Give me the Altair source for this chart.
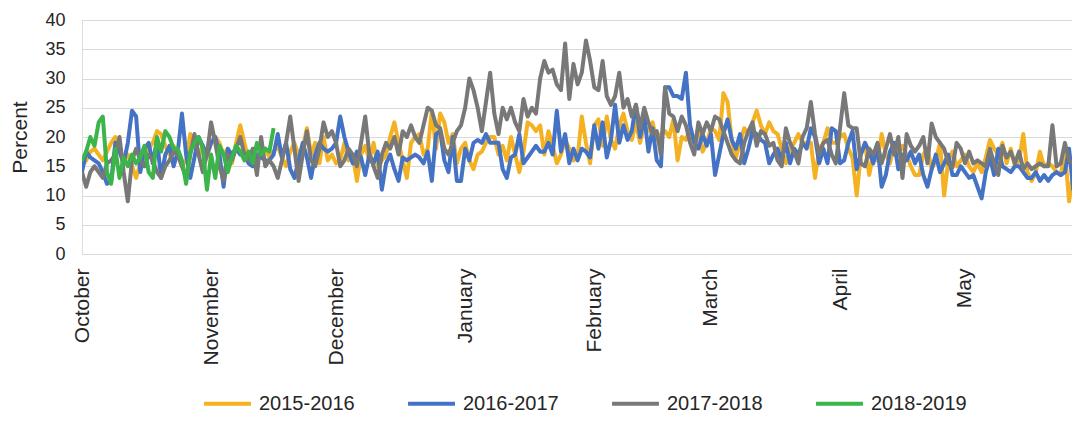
import altair as alt
import pandas as pd

months = ["October", "November", "December", "January", "February", "March", "April", "May"]
month_start = [0, 31, 61, 92, 123, 151, 182, 212]
seasons = ["2015-2016", "2016-2017", "2017-2018", "2018-2019"]
colors = ["#F4B223", "#4472C4", "#787878", "#3BB44A"]
y_ticks = [0, 5, 10, 15, 20, 25, 30, 35, 40]

s2015 = [
    15, 16, 17.5, 18, 17, 16, 17.5, 19, 20, 18,
    16, 17, 15, 13, 15.5, 17, 18, 19, 21, 20.5,
    18.5, 17, 18.5, 17, 15, 16, 20.5, 19, 17, 18.5,
    16.5, 19, 20, 19, 17, 18, 15.5, 19, 22, 19,
    16, 15.5, 16, 17, 18, 16.5, 17.5, 18.5, 16.5, 15,
    17.5, 19, 17, 18, 21.5, 17, 19, 15.5, 20, 16,
    17, 15.5, 16, 19, 16, 17, 12.5, 17, 18.5, 16,
    19, 15, 16, 17, 20, 22.5, 19, 16, 13, 19,
    20, 20.5, 17, 18, 24.5, 18, 24, 22.5, 19, 20.5,
    15.5, 18, 19, 16, 14.5, 17, 17.5, 19, 20, 20,
    17, 18.5, 16, 20, 17, 14, 17.5, 22.5, 22, 21,
    22, 17, 21, 18.5, 15.5, 17, 19.5, 18, 16, 16.5,
    23.5, 19, 15.5, 22, 23, 18.5, 23.5, 19.5, 18, 22,
    24, 21, 19.5, 22.5, 19, 22, 21, 22.5, 19.5, 20.5,
    21, 20, 23, 16, 20, 19.5, 21.5, 19, 21.5, 17.5,
    19, 21.5, 21, 19.5, 27.5, 26, 19.5, 16.5, 19, 21.5,
    20.5, 22.5, 24.5, 22, 20.5, 22.5, 21, 20.5, 18, 15.5,
    18, 19, 20.5, 19, 19, 19, 13, 18, 19, 21.5,
    19, 19, 20, 20.5, 18, 16.5, 10, 17, 19, 13.5,
    17, 16, 20.5, 17, 15.5, 19, 17, 18.5, 17, 15,
    13.5, 13.5, 17, 18, 14.5, 16, 19, 10, 16, 17.5,
    15, 16, 17, 15, 14, 15.5, 14, 16.5, 19.5, 18,
    17, 19, 15.5, 18, 15, 16, 20.5, 14, 12.5, 14,
    17.5, 15, 15.5, 15, 14, 13.5, 17.5, 9, 14, 17,
    15, 12.5, 12,
]

s2016 = [
    14, 17.5, 16.5, 16, 15.5, 14, 12, 12.5, 19, 17.5,
    15.5, 19, 24.5, 23.5, 14, 18, 19, 15.5, 19.5, 13,
    17, 18.5, 15, 17.5, 24, 17, 13, 16.5, 20, 18.5,
    17, 19, 20, 17, 11.5, 18, 17, 18, 17, 17,
    15.5, 15, 17, 16.5, 16, 16, 17, 20.5, 16.5, 19,
    14.5, 13, 16, 19, 16.5, 13, 17, 19, 18, 17.5,
    18, 19, 23.5, 20, 17.5, 15.5, 17.5, 16.5, 13.5, 17,
    15.5, 17.5, 11, 15.5, 17, 14.5, 12.5, 16.5, 16, 16.5,
    17, 16.5, 15.5, 17.5, 12.5, 20.5, 21, 16, 14, 20,
    12.5, 12.5, 18, 16, 19, 19.5, 19, 20.5, 19, 19,
    19, 14.5, 13, 16.5, 17, 20.5, 15.5, 16.5, 17.5, 18.5,
    17.5, 17.5, 19, 17, 24.5, 17.5, 20.5, 15.5, 18, 16,
    18, 17.5, 16.5, 22, 18, 22.5, 16.5, 19.5, 25.5, 19,
    22, 19.5, 21, 25.5, 20, 23.5, 17.5, 21.5, 16, 15,
    28.5, 28.5, 27, 27, 26.5, 31, 22, 19, 18, 20.5,
    18.5, 20.5, 13.5, 17, 20.5, 23, 19.5, 18, 20.5, 15.5,
    18, 21, 20.5, 19.5, 19, 15.5, 17, 18, 16, 19,
    15.5, 18, 17, 19, 18, 21.5, 20, 15.5, 18, 15.5,
    21.5, 21, 15.5, 16, 19, 21, 14.5, 17, 19, 17.5,
    15.5, 18.5, 11.5, 13.5, 17.5, 19, 14.5, 17, 16, 17.5,
    15.5, 17, 13.5, 11.5, 14.5, 17, 14, 15.5, 17, 13.5,
    13.5, 15, 14, 13, 13.5, 11.5, 9.5, 14, 16.5, 13.5,
    18, 15, 14.5, 14, 15, 15, 14, 13, 13, 14,
    12.5, 13.5, 12.5, 13.5, 14, 13.5, 14, 18, 11, 16,
    16, 15, 15,
]

s2017 = [
    14, 11.5, 14, 15, 14, 13, 15.5, 16, 17, 20,
    14, 9, 16, 18, 16, 15, 17, 16, 14, 13,
    15, 16, 17.5, 17, 15, 13, 17, 20.5, 17, 14,
    17, 22.5, 19, 15, 12.5, 17, 16, 18, 20, 17,
    16, 18, 13.5, 20, 15, 16, 15, 13, 16, 19,
    23.5, 18, 12.5, 17, 21, 16, 15, 18, 22.5, 20,
    21, 19, 15, 16, 18, 17, 15, 19, 23.5, 17,
    15, 13, 17, 19, 18, 20, 17, 21, 20, 22,
    20, 19, 22, 25, 24.5, 22, 21.5, 18, 17, 19,
    21, 22, 25, 30, 28, 25, 21, 26, 31, 24,
    20.5, 25, 23, 25, 22.5, 21, 26.5, 23.5, 25, 24,
    30, 33, 31, 31.5, 29, 28, 36, 26.5, 32.5, 29,
    31, 36.5, 33, 28.5, 28, 33, 27, 25.5, 27, 31,
    25, 26.5, 23.5, 25.5, 21.5, 25, 22.5, 20.5, 21, 17,
    28.5, 24, 23.5, 21, 23.5, 22, 19, 17, 22.5, 20.5,
    22.5, 21, 23.5, 23, 21, 19, 17, 16, 15.5, 19,
    21, 22.5, 18.5, 21, 20.5, 18.5, 19, 16, 15, 21.5,
    19, 17.5, 15.5, 20, 21.5, 26, 20.5, 17, 19, 19.5,
    17, 15.5, 21.5, 27.5, 22, 21.5, 21.5, 15.5, 15, 18,
    17, 19, 15.5, 18, 20.5, 17, 20, 13, 20.5, 18.5,
    17.5, 18.5, 20, 15.5, 22.3, 20, 19, 18, 15.5, 14.8,
    19, 18, 15.5, 17.5, 15.5, 16, 15.5, 15, 18, 15.5,
    13.5, 18.5, 16.5, 17.5, 15.5, 17.5, 14.5, 15.5, 14.5, 15,
    15.5, 15, 15, 22, 15, 15.5, 19, 16, 15.5, 15,
    14.5, 15, 15,
]

s2018 = [
    16, 17.5, 20, 18.5, 22.5, 23.5, 14, 12, 18, 13,
    16.5, 15, 17, 15.5, 16.5, 18.5, 14, 13, 20, 17.5,
    21, 20, 18, 18, 16, 12, 17.5, 19, 20, 18,
    11, 17, 13, 18.5, 17, 14, 16.5, 18.5, 17.5, 16,
    17.5, 15.5, 19, 17, 18, 17.5, 21.5,
]

rows = []
for name, vals in zip(seasons, [s2015, s2016, s2017, s2018]):
    for i, v in enumerate(vals):
        rows.append({"day": i, "pct": v, "season": name})
df = pd.DataFrame(rows)

label_expr = ""
for d, m in zip(month_start, months):
    label_expr += f"datum.value == {d} ? '{m}' : "
label_expr += "''"

FONT = "Liberation Sans"
TXT = "#262626"

chart = (
    alt.Chart(df)
    .mark_line(strokeWidth=4, clip=True, strokeJoin="round")
    .encode(
        x=alt.X(
            "day:Q",
            scale=alt.Scale(domain=[0, 237.7], nice=False, zero=False),
            axis=alt.Axis(
                values=month_start,
                labelExpr=label_expr,
                labelAngle=270,
                labelAlign="right",
                labelBaseline="middle",
                labelPadding=14,
                labelFontSize=21,
                labelFont=FONT,
                labelColor=TXT,
                labelFlush=False,
                labelOverlap=False,
                labelBound=False,
                grid=False,
                domain=False,
                ticks=False,
                title=None,
            ),
        ),
        y=alt.Y(
            "pct:Q",
            scale=alt.Scale(domain=[0, 40], nice=False),
            axis=alt.Axis(
                values=y_ticks,
                grid=True,
                gridColor="#d9d9d9",
                gridWidth=1.2,
                domain=False,
                ticks=False,
                labelFontSize=18,
                labelFont=FONT,
                labelColor=TXT,
                labelPadding=17,
                title="Percent",
                titleFont=FONT,
                titleFontSize=21,
                titleFontWeight="normal",
                titleColor=TXT,
                titlePadding=14,
            ),
        ),
        color=alt.Color(
            "season:N",
            scale=alt.Scale(domain=seasons, range=colors),
            legend=alt.Legend(
                orient="none",
                legendX=120,
                legendY=358,
                direction="horizontal",
                columns=4,
                title=None,
                symbolType="stroke",
                symbolStrokeWidth=4,
                symbolSize=2200,
                labelFontSize=20,
                labelFont=FONT,
                labelColor=TXT,
                labelOffset=6,
                columnPadding=45,
                padding=0,
            ),
        ),
    )
    .properties(
        width=990,
        height=234,
        autosize=alt.AutoSizeParams(type="none"),
        padding={"left": 74, "top": 12, "right": 0, "bottom": 160},
    )
    .configure_view(stroke=None)
    .configure(background="white")
)

chart.save("out.html", embed_options={"renderer": "svg", "actions": False})
